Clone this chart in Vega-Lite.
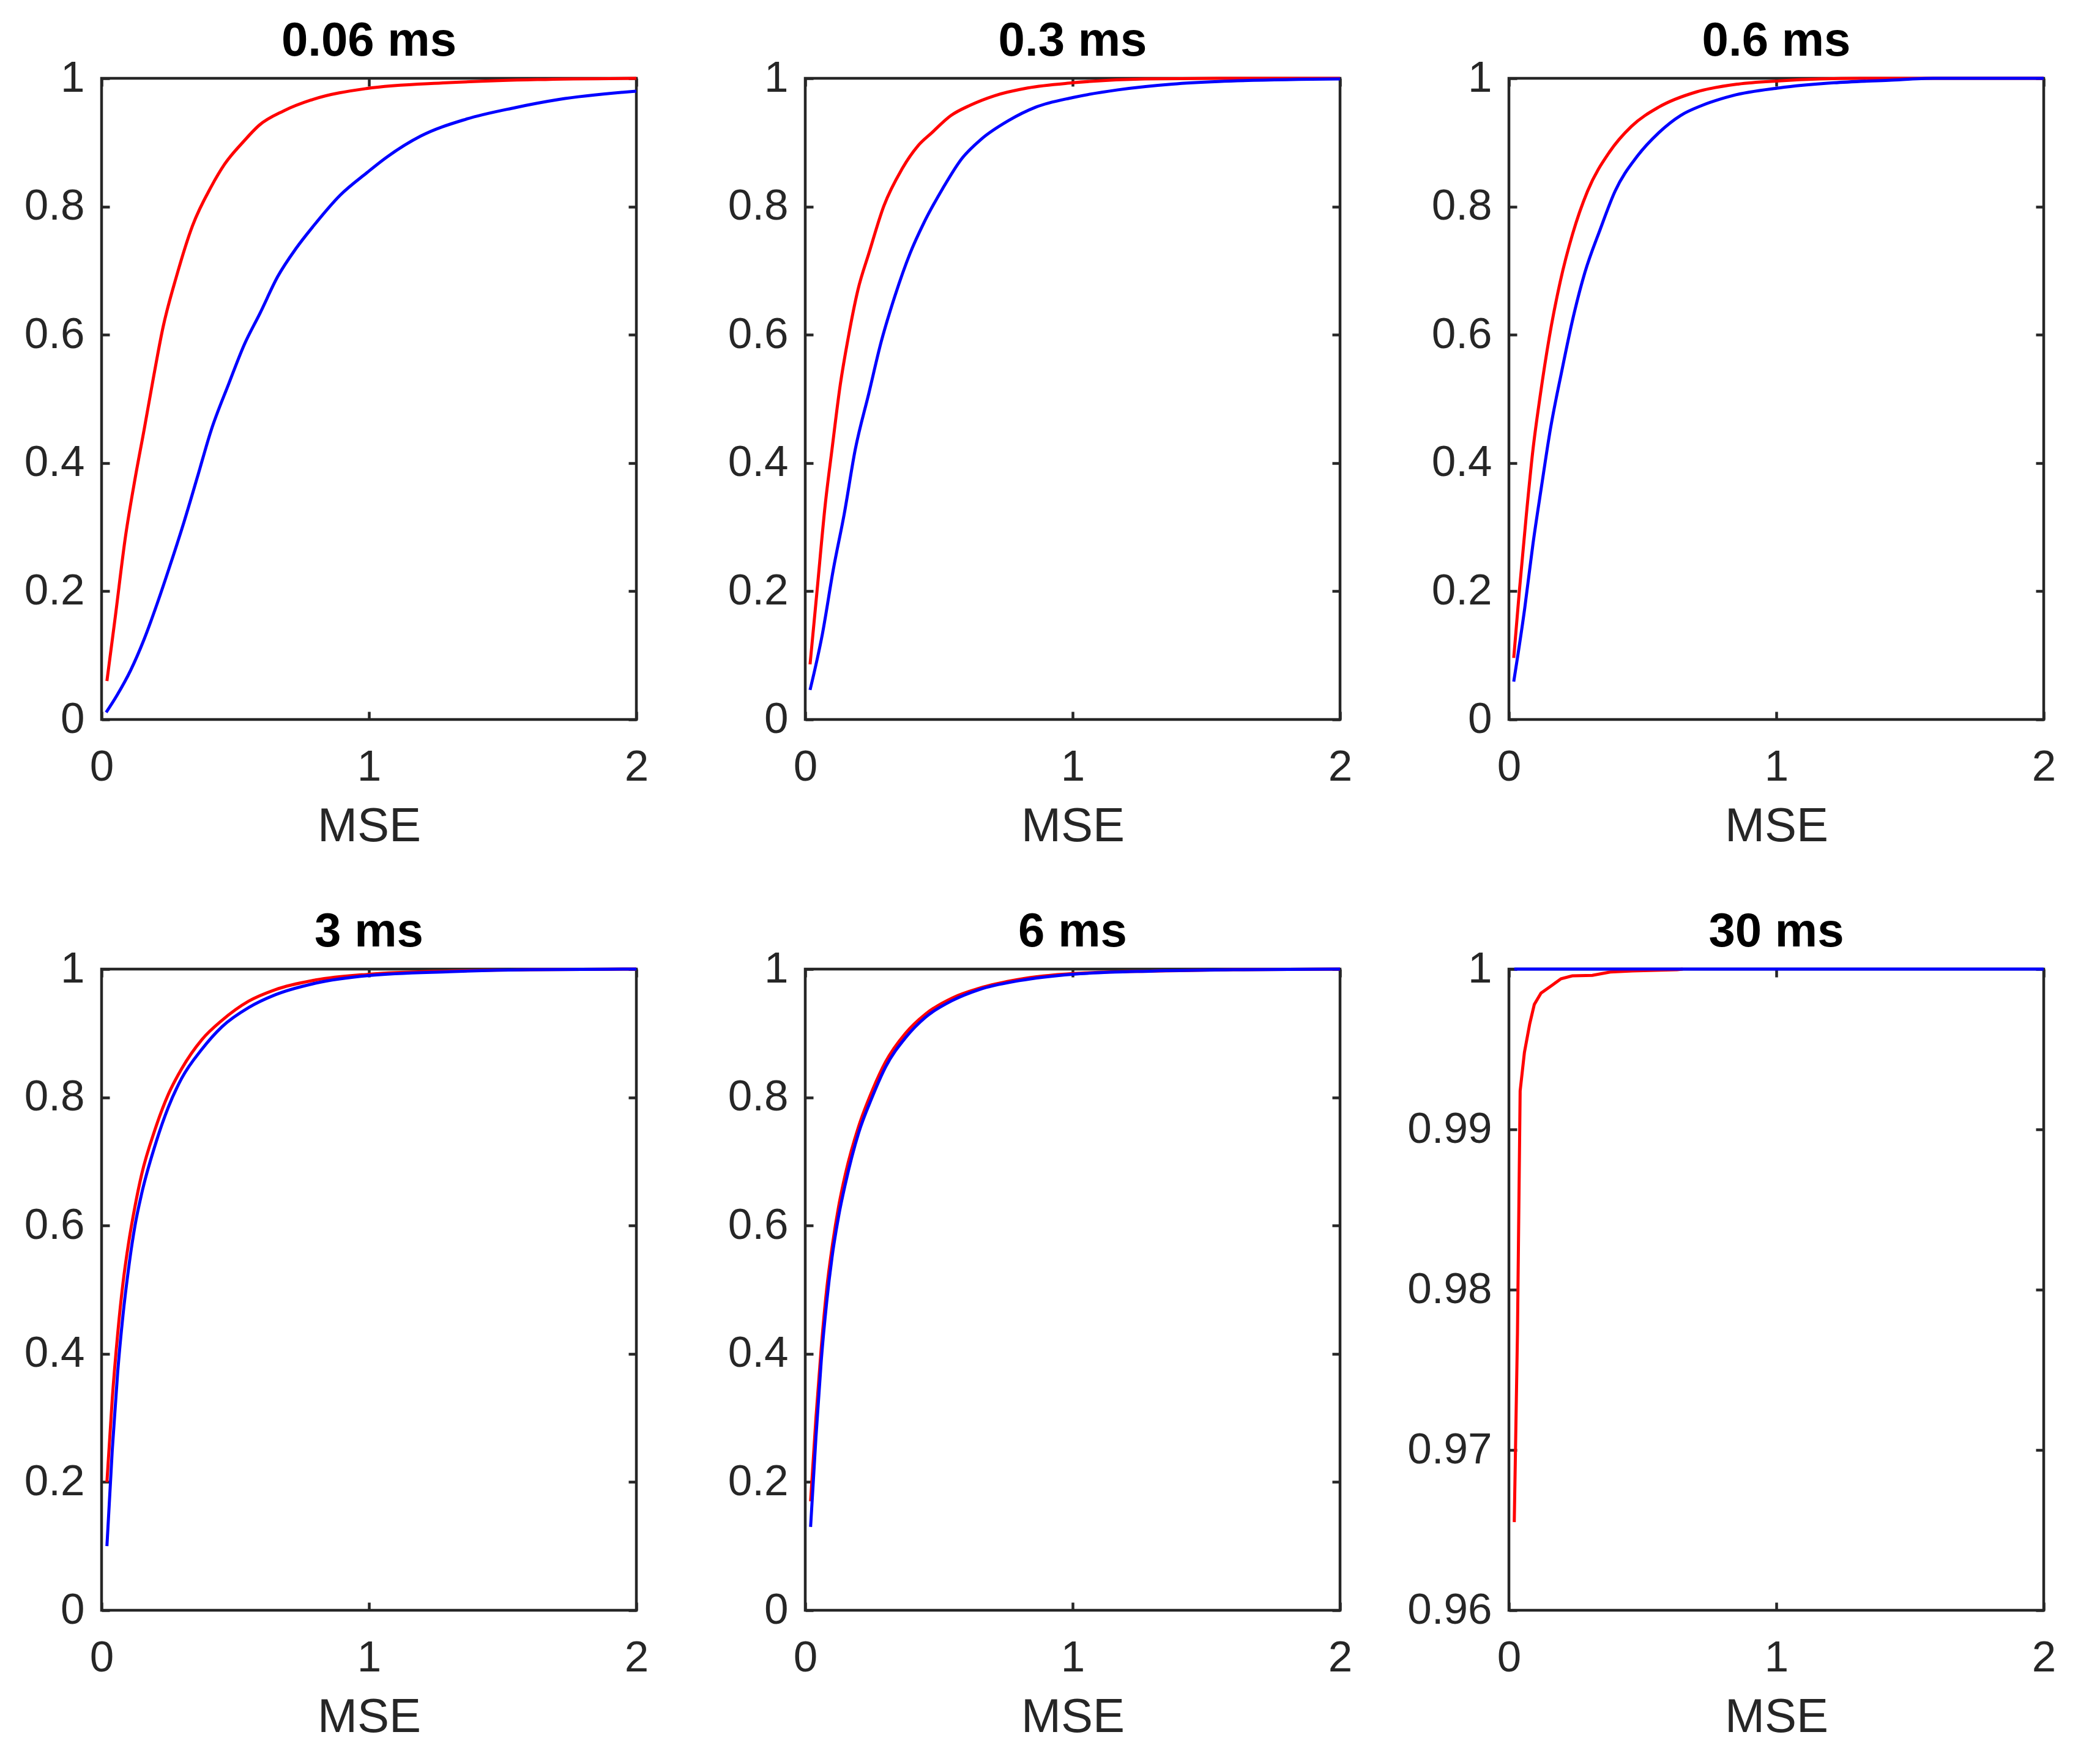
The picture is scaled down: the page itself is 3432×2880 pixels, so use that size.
{
  "$schema": "https://vega.github.io/schema/vega-lite/v6.json",
  "padding": {"left": 37, "top": 26, "right": 30, "bottom": 30},
  "background": "#ffffff",
  "config": {
    "view": {"stroke": "#262626", "strokeWidth": 4.5},
    "font": "Liberation Sans",
    "line": {"strokeWidth": 5, "strokeCap": "butt", "interpolate": "monotone"},
    "axis": {
      "grid": false,
      "domain": false,
      "tickColor": "#262626",
      "tickWidth": 4.5,
      "tickSize": -13,
      "labelFont": "Liberation Sans",
      "labelFontSize": 71,
      "labelColor": "#262626",
      "labelFlush": false,
      "labelOverlap": false,
      "titleFont": "Liberation Sans",
      "titleFontSize": 78,
      "titleFontWeight": "normal",
      "titleColor": "#262626"
    },
    "title": {
      "font": "Liberation Sans",
      "fontSize": 78,
      "fontWeight": "bold",
      "color": "#000000",
      "anchor": "middle",
      "frame": "group",
      "baseline": "alphabetic",
      "offset": -15
    }
  },
  "datasets": {
    "d": [
      {"panel": "0.06 ms", "series": "red", "mse": 0.02, "cdf": 0.06},
      {"panel": "0.06 ms", "series": "red", "mse": 0.05, "cdf": 0.156},
      {"panel": "0.06 ms", "series": "red", "mse": 0.09, "cdf": 0.287},
      {"panel": "0.06 ms", "series": "red", "mse": 0.125, "cdf": 0.375},
      {"panel": "0.06 ms", "series": "red", "mse": 0.16, "cdf": 0.454},
      {"panel": "0.06 ms", "series": "red", "mse": 0.19, "cdf": 0.524},
      {"panel": "0.06 ms", "series": "red", "mse": 0.23, "cdf": 0.612},
      {"panel": "0.06 ms", "series": "red", "mse": 0.28, "cdf": 0.691},
      {"panel": "0.06 ms", "series": "red", "mse": 0.34, "cdf": 0.77},
      {"panel": "0.06 ms", "series": "red", "mse": 0.41, "cdf": 0.831},
      {"panel": "0.06 ms", "series": "red", "mse": 0.46, "cdf": 0.866},
      {"panel": "0.06 ms", "series": "red", "mse": 0.53, "cdf": 0.901},
      {"panel": "0.06 ms", "series": "red", "mse": 0.59, "cdf": 0.927},
      {"panel": "0.06 ms", "series": "red", "mse": 0.68, "cdf": 0.949},
      {"panel": "0.06 ms", "series": "red", "mse": 0.79, "cdf": 0.967},
      {"panel": "0.06 ms", "series": "red", "mse": 0.99, "cdf": 0.984},
      {"panel": "0.06 ms", "series": "red", "mse": 1.29, "cdf": 0.993},
      {"panel": "0.06 ms", "series": "red", "mse": 1.63, "cdf": 0.998},
      {"panel": "0.06 ms", "series": "red", "mse": 2.0, "cdf": 1.0},
      {"panel": "0.06 ms", "series": "blue", "mse": 0.017, "cdf": 0.011},
      {"panel": "0.06 ms", "series": "blue", "mse": 0.058, "cdf": 0.038},
      {"panel": "0.06 ms", "series": "blue", "mse": 0.109, "cdf": 0.077},
      {"panel": "0.06 ms", "series": "blue", "mse": 0.159, "cdf": 0.125},
      {"panel": "0.06 ms", "series": "blue", "mse": 0.209, "cdf": 0.182},
      {"panel": "0.06 ms", "series": "blue", "mse": 0.259, "cdf": 0.244},
      {"panel": "0.06 ms", "series": "blue", "mse": 0.309, "cdf": 0.309},
      {"panel": "0.06 ms", "series": "blue", "mse": 0.359, "cdf": 0.379},
      {"panel": "0.06 ms", "series": "blue", "mse": 0.409, "cdf": 0.45},
      {"panel": "0.06 ms", "series": "blue", "mse": 0.476, "cdf": 0.524},
      {"panel": "0.06 ms", "series": "blue", "mse": 0.534, "cdf": 0.585},
      {"panel": "0.06 ms", "series": "blue", "mse": 0.593, "cdf": 0.634},
      {"panel": "0.06 ms", "series": "blue", "mse": 0.659, "cdf": 0.691},
      {"panel": "0.06 ms", "series": "blue", "mse": 0.726, "cdf": 0.734},
      {"panel": "0.06 ms", "series": "blue", "mse": 0.793, "cdf": 0.77},
      {"panel": "0.06 ms", "series": "blue", "mse": 0.893, "cdf": 0.818},
      {"panel": "0.06 ms", "series": "blue", "mse": 0.993, "cdf": 0.853},
      {"panel": "0.06 ms", "series": "blue", "mse": 1.06, "cdf": 0.875},
      {"panel": "0.06 ms", "series": "blue", "mse": 1.194, "cdf": 0.91},
      {"panel": "0.06 ms", "series": "blue", "mse": 1.361, "cdf": 0.936},
      {"panel": "0.06 ms", "series": "blue", "mse": 1.544, "cdf": 0.954},
      {"panel": "0.06 ms", "series": "blue", "mse": 1.711, "cdf": 0.967},
      {"panel": "0.06 ms", "series": "blue", "mse": 2.0, "cdf": 0.98},

      {"panel": "0.3 ms", "series": "red", "mse": 0.018, "cdf": 0.086},
      {"panel": "0.3 ms", "series": "red", "mse": 0.044, "cdf": 0.2},
      {"panel": "0.3 ms", "series": "red", "mse": 0.075, "cdf": 0.336},
      {"panel": "0.3 ms", "series": "red", "mse": 0.1, "cdf": 0.421},
      {"panel": "0.3 ms", "series": "red", "mse": 0.131, "cdf": 0.522},
      {"panel": "0.3 ms", "series": "red", "mse": 0.161, "cdf": 0.596},
      {"panel": "0.3 ms", "series": "red", "mse": 0.197, "cdf": 0.67},
      {"panel": "0.3 ms", "series": "red", "mse": 0.238, "cdf": 0.727},
      {"panel": "0.3 ms", "series": "red", "mse": 0.294, "cdf": 0.801},
      {"panel": "0.3 ms", "series": "red", "mse": 0.361, "cdf": 0.858},
      {"panel": "0.3 ms", "series": "red", "mse": 0.422, "cdf": 0.895},
      {"panel": "0.3 ms", "series": "red", "mse": 0.473, "cdf": 0.915},
      {"panel": "0.3 ms", "series": "red", "mse": 0.545, "cdf": 0.942},
      {"panel": "0.3 ms", "series": "red", "mse": 0.617, "cdf": 0.958},
      {"panel": "0.3 ms", "series": "red", "mse": 0.709, "cdf": 0.973},
      {"panel": "0.3 ms", "series": "red", "mse": 0.832, "cdf": 0.985},
      {"panel": "0.3 ms", "series": "red", "mse": 1.0, "cdf": 0.993},
      {"panel": "0.3 ms", "series": "red", "mse": 1.27, "cdf": 0.999},
      {"panel": "0.3 ms", "series": "red", "mse": 1.545, "cdf": 1.0},
      {"panel": "0.3 ms", "series": "red", "mse": 2.0, "cdf": 1.0},
      {"panel": "0.3 ms", "series": "blue", "mse": 0.018, "cdf": 0.046},
      {"panel": "0.3 ms", "series": "blue", "mse": 0.064, "cdf": 0.133},
      {"panel": "0.3 ms", "series": "blue", "mse": 0.105, "cdf": 0.234},
      {"panel": "0.3 ms", "series": "blue", "mse": 0.146, "cdf": 0.321},
      {"panel": "0.3 ms", "series": "blue", "mse": 0.187, "cdf": 0.421},
      {"panel": "0.3 ms", "series": "blue", "mse": 0.238, "cdf": 0.509},
      {"panel": "0.3 ms", "series": "blue", "mse": 0.284, "cdf": 0.589},
      {"panel": "0.3 ms", "series": "blue", "mse": 0.335, "cdf": 0.66},
      {"panel": "0.3 ms", "series": "blue", "mse": 0.392, "cdf": 0.727},
      {"panel": "0.3 ms", "series": "blue", "mse": 0.443, "cdf": 0.774},
      {"panel": "0.3 ms", "series": "blue", "mse": 0.514, "cdf": 0.828},
      {"panel": "0.3 ms", "series": "blue", "mse": 0.586, "cdf": 0.875},
      {"panel": "0.3 ms", "series": "blue", "mse": 0.658, "cdf": 0.905},
      {"panel": "0.3 ms", "series": "blue", "mse": 0.76, "cdf": 0.934},
      {"panel": "0.3 ms", "series": "blue", "mse": 0.862, "cdf": 0.955},
      {"panel": "0.3 ms", "series": "blue", "mse": 1.0, "cdf": 0.97},
      {"panel": "0.3 ms", "series": "blue", "mse": 1.169, "cdf": 0.982},
      {"panel": "0.3 ms", "series": "blue", "mse": 1.373, "cdf": 0.991},
      {"panel": "0.3 ms", "series": "blue", "mse": 1.545, "cdf": 0.995},
      {"panel": "0.3 ms", "series": "blue", "mse": 2.0, "cdf": 0.999},

      {"panel": "0.6 ms", "series": "red", "mse": 0.018, "cdf": 0.096},
      {"panel": "0.6 ms", "series": "red", "mse": 0.039, "cdf": 0.2},
      {"panel": "0.6 ms", "series": "red", "mse": 0.064, "cdf": 0.314},
      {"panel": "0.6 ms", "series": "red", "mse": 0.09, "cdf": 0.421},
      {"panel": "0.6 ms", "series": "red", "mse": 0.116, "cdf": 0.502},
      {"panel": "0.6 ms", "series": "red", "mse": 0.151, "cdf": 0.596},
      {"panel": "0.6 ms", "series": "red", "mse": 0.192, "cdf": 0.683},
      {"panel": "0.6 ms", "series": "red", "mse": 0.238, "cdf": 0.757},
      {"panel": "0.6 ms", "series": "red", "mse": 0.294, "cdf": 0.824},
      {"panel": "0.6 ms", "series": "red", "mse": 0.376, "cdf": 0.885},
      {"panel": "0.6 ms", "series": "red", "mse": 0.458, "cdf": 0.925},
      {"panel": "0.6 ms", "series": "red", "mse": 0.56, "cdf": 0.955},
      {"panel": "0.6 ms", "series": "red", "mse": 0.703, "cdf": 0.979},
      {"panel": "0.6 ms", "series": "red", "mse": 0.857, "cdf": 0.991},
      {"panel": "0.6 ms", "series": "red", "mse": 1.01, "cdf": 0.996},
      {"panel": "0.6 ms", "series": "red", "mse": 1.317, "cdf": 1.0},
      {"panel": "0.6 ms", "series": "red", "mse": 2.0, "cdf": 1.0},
      {"panel": "0.6 ms", "series": "blue", "mse": 0.018, "cdf": 0.059},
      {"panel": "0.6 ms", "series": "blue", "mse": 0.059, "cdf": 0.173},
      {"panel": "0.6 ms", "series": "blue", "mse": 0.09, "cdf": 0.274},
      {"panel": "0.6 ms", "series": "blue", "mse": 0.121, "cdf": 0.361},
      {"panel": "0.6 ms", "series": "blue", "mse": 0.156, "cdf": 0.455},
      {"panel": "0.6 ms", "series": "blue", "mse": 0.197, "cdf": 0.542},
      {"panel": "0.6 ms", "series": "blue", "mse": 0.238, "cdf": 0.623},
      {"panel": "0.6 ms", "series": "blue", "mse": 0.284, "cdf": 0.697},
      {"panel": "0.6 ms", "series": "blue", "mse": 0.341, "cdf": 0.764},
      {"panel": "0.6 ms", "series": "blue", "mse": 0.397, "cdf": 0.824},
      {"panel": "0.6 ms", "series": "blue", "mse": 0.479, "cdf": 0.878},
      {"panel": "0.6 ms", "series": "blue", "mse": 0.56, "cdf": 0.915},
      {"panel": "0.6 ms", "series": "blue", "mse": 0.642, "cdf": 0.942},
      {"panel": "0.6 ms", "series": "blue", "mse": 0.724, "cdf": 0.958},
      {"panel": "0.6 ms", "series": "blue", "mse": 0.836, "cdf": 0.973},
      {"panel": "0.6 ms", "series": "blue", "mse": 1.01, "cdf": 0.985},
      {"panel": "0.6 ms", "series": "blue", "mse": 1.215, "cdf": 0.993},
      {"panel": "0.6 ms", "series": "blue", "mse": 1.42, "cdf": 0.997},
      {"panel": "0.6 ms", "series": "blue", "mse": 1.59, "cdf": 1.0},
      {"panel": "0.6 ms", "series": "blue", "mse": 2.0, "cdf": 1.0},

      {"panel": "3 ms", "series": "red", "mse": 0.02, "cdf": 0.2},
      {"panel": "3 ms", "series": "red", "mse": 0.04, "cdf": 0.33},
      {"panel": "3 ms", "series": "red", "mse": 0.06, "cdf": 0.43},
      {"panel": "3 ms", "series": "red", "mse": 0.08, "cdf": 0.51},
      {"panel": "3 ms", "series": "red", "mse": 0.1, "cdf": 0.57},
      {"panel": "3 ms", "series": "red", "mse": 0.125, "cdf": 0.63},
      {"panel": "3 ms", "series": "red", "mse": 0.15, "cdf": 0.68},
      {"panel": "3 ms", "series": "red", "mse": 0.2, "cdf": 0.75},
      {"panel": "3 ms", "series": "red", "mse": 0.25, "cdf": 0.805},
      {"panel": "3 ms", "series": "red", "mse": 0.3, "cdf": 0.845},
      {"panel": "3 ms", "series": "red", "mse": 0.375, "cdf": 0.89},
      {"panel": "3 ms", "series": "red", "mse": 0.45, "cdf": 0.92},
      {"panel": "3 ms", "series": "red", "mse": 0.55, "cdf": 0.95},
      {"panel": "3 ms", "series": "red", "mse": 0.65, "cdf": 0.968},
      {"panel": "3 ms", "series": "red", "mse": 0.8, "cdf": 0.983},
      {"panel": "3 ms", "series": "red", "mse": 1.0, "cdf": 0.992},
      {"panel": "3 ms", "series": "red", "mse": 1.3, "cdf": 0.997},
      {"panel": "3 ms", "series": "red", "mse": 1.6, "cdf": 0.999},
      {"panel": "3 ms", "series": "red", "mse": 2.0, "cdf": 1.0},
      {"panel": "3 ms", "series": "blue", "mse": 0.02, "cdf": 0.1},
      {"panel": "3 ms", "series": "blue", "mse": 0.04, "cdf": 0.25},
      {"panel": "3 ms", "series": "blue", "mse": 0.06, "cdf": 0.37},
      {"panel": "3 ms", "series": "blue", "mse": 0.08, "cdf": 0.46},
      {"panel": "3 ms", "series": "blue", "mse": 0.1, "cdf": 0.53},
      {"panel": "3 ms", "series": "blue", "mse": 0.125, "cdf": 0.6},
      {"panel": "3 ms", "series": "blue", "mse": 0.15, "cdf": 0.65},
      {"panel": "3 ms", "series": "blue", "mse": 0.2, "cdf": 0.725},
      {"panel": "3 ms", "series": "blue", "mse": 0.25, "cdf": 0.785},
      {"panel": "3 ms", "series": "blue", "mse": 0.3, "cdf": 0.83},
      {"panel": "3 ms", "series": "blue", "mse": 0.375, "cdf": 0.875},
      {"panel": "3 ms", "series": "blue", "mse": 0.45, "cdf": 0.91},
      {"panel": "3 ms", "series": "blue", "mse": 0.55, "cdf": 0.94},
      {"panel": "3 ms", "series": "blue", "mse": 0.65, "cdf": 0.96},
      {"panel": "3 ms", "series": "blue", "mse": 0.8, "cdf": 0.978},
      {"panel": "3 ms", "series": "blue", "mse": 1.0, "cdf": 0.99},
      {"panel": "3 ms", "series": "blue", "mse": 1.3, "cdf": 0.996},
      {"panel": "3 ms", "series": "blue", "mse": 1.6, "cdf": 0.999},
      {"panel": "3 ms", "series": "blue", "mse": 2.0, "cdf": 1.0},

      {"panel": "6 ms", "series": "red", "mse": 0.02, "cdf": 0.17},
      {"panel": "6 ms", "series": "red", "mse": 0.04, "cdf": 0.3},
      {"panel": "6 ms", "series": "red", "mse": 0.06, "cdf": 0.41},
      {"panel": "6 ms", "series": "red", "mse": 0.08, "cdf": 0.5},
      {"panel": "6 ms", "series": "red", "mse": 0.1, "cdf": 0.565},
      {"panel": "6 ms", "series": "red", "mse": 0.125, "cdf": 0.63},
      {"panel": "6 ms", "series": "red", "mse": 0.15, "cdf": 0.68},
      {"panel": "6 ms", "series": "red", "mse": 0.2, "cdf": 0.755},
      {"panel": "6 ms", "series": "red", "mse": 0.25, "cdf": 0.81},
      {"panel": "6 ms", "series": "red", "mse": 0.3, "cdf": 0.855},
      {"panel": "6 ms", "series": "red", "mse": 0.375, "cdf": 0.9},
      {"panel": "6 ms", "series": "red", "mse": 0.45, "cdf": 0.93},
      {"panel": "6 ms", "series": "red", "mse": 0.55, "cdf": 0.955},
      {"panel": "6 ms", "series": "red", "mse": 0.65, "cdf": 0.97},
      {"panel": "6 ms", "series": "red", "mse": 0.8, "cdf": 0.984},
      {"panel": "6 ms", "series": "red", "mse": 1.0, "cdf": 0.993},
      {"panel": "6 ms", "series": "red", "mse": 1.3, "cdf": 0.997},
      {"panel": "6 ms", "series": "red", "mse": 1.6, "cdf": 0.999},
      {"panel": "6 ms", "series": "red", "mse": 2.0, "cdf": 1.0},
      {"panel": "6 ms", "series": "blue", "mse": 0.02, "cdf": 0.13},
      {"panel": "6 ms", "series": "blue", "mse": 0.04, "cdf": 0.27},
      {"panel": "6 ms", "series": "blue", "mse": 0.06, "cdf": 0.39},
      {"panel": "6 ms", "series": "blue", "mse": 0.08, "cdf": 0.48},
      {"panel": "6 ms", "series": "blue", "mse": 0.1, "cdf": 0.55},
      {"panel": "6 ms", "series": "blue", "mse": 0.125, "cdf": 0.615},
      {"panel": "6 ms", "series": "blue", "mse": 0.15, "cdf": 0.665},
      {"panel": "6 ms", "series": "blue", "mse": 0.2, "cdf": 0.745},
      {"panel": "6 ms", "series": "blue", "mse": 0.25, "cdf": 0.8},
      {"panel": "6 ms", "series": "blue", "mse": 0.3, "cdf": 0.847},
      {"panel": "6 ms", "series": "blue", "mse": 0.375, "cdf": 0.893},
      {"panel": "6 ms", "series": "blue", "mse": 0.45, "cdf": 0.925},
      {"panel": "6 ms", "series": "blue", "mse": 0.55, "cdf": 0.951},
      {"panel": "6 ms", "series": "blue", "mse": 0.65, "cdf": 0.968},
      {"panel": "6 ms", "series": "blue", "mse": 0.8, "cdf": 0.982},
      {"panel": "6 ms", "series": "blue", "mse": 1.0, "cdf": 0.992},
      {"panel": "6 ms", "series": "blue", "mse": 1.3, "cdf": 0.997},
      {"panel": "6 ms", "series": "blue", "mse": 1.6, "cdf": 0.999},
      {"panel": "6 ms", "series": "blue", "mse": 2.0, "cdf": 1.0},

      {"panel": "30 ms", "series": "red", "mse": 0.02, "cdf": 0.9655},
      {"panel": "30 ms", "series": "red", "mse": 0.032, "cdf": 0.9773},
      {"panel": "30 ms", "series": "red", "mse": 0.042, "cdf": 0.9924},
      {"panel": "30 ms", "series": "red", "mse": 0.058, "cdf": 0.9948},
      {"panel": "30 ms", "series": "red", "mse": 0.078, "cdf": 0.9966},
      {"panel": "30 ms", "series": "red", "mse": 0.095, "cdf": 0.9978},
      {"panel": "30 ms", "series": "red", "mse": 0.12, "cdf": 0.9985},
      {"panel": "30 ms", "series": "red", "mse": 0.162, "cdf": 0.999},
      {"panel": "30 ms", "series": "red", "mse": 0.195, "cdf": 0.9994},
      {"panel": "30 ms", "series": "red", "mse": 0.237, "cdf": 0.99958},
      {"panel": "30 ms", "series": "red", "mse": 0.312, "cdf": 0.99961},
      {"panel": "30 ms", "series": "red", "mse": 0.379, "cdf": 0.99982},
      {"panel": "30 ms", "series": "red", "mse": 0.462, "cdf": 0.99989},
      {"panel": "30 ms", "series": "red", "mse": 0.629, "cdf": 0.99996},
      {"panel": "30 ms", "series": "red", "mse": 0.65, "cdf": 1.0},
      {"panel": "30 ms", "series": "blue", "mse": 0.02, "cdf": 1.0},
      {"panel": "30 ms", "series": "blue", "mse": 2.0, "cdf": 1.0}
    ]
  },
  "columns": 3,
  "bounds": "flush",
  "align": "all",
  "spacing": {"row": 408, "column": 276},
  "concat": [
    {
      "title": {"text": "0.06 ms"},
      "width": 874, "height": 1048,
      "data": {"name": "d"},
      "transform": [{"filter": "datum.panel === '0.06 ms'"}],
      "resolve": {"axis": {"x": "independent", "y": "independent"}},
      "layer": [
        {"transform": [{"filter": "datum.series === 'red'"}],
         "mark": {"type": "line", "color": "#FF0000"},
         "encoding": {
           "x": {"field": "mse", "type": "quantitative", "scale": {"domain": [0, 2], "nice": false}, "axis": {"orient": "bottom", "values": [0, 1, 2], "format": "~g", "title": "MSE", "labelPadding": 56, "titlePadding": 23}},
           "y": {"field": "cdf", "type": "quantitative", "scale": {"domain": [0, 1], "nice": false}, "axis": {"orient": "left", "values": [0, 0.2, 0.4, 0.6, 0.8, 1], "format": "~g", "title": null, "labelPadding": 41}}
         }},
        {"transform": [{"filter": "datum.series === 'blue'"}],
         "mark": {"type": "line", "color": "#0000FF"},
         "encoding": {
           "x": {"field": "mse", "type": "quantitative", "axis": {"orient": "top", "values": [0, 1, 2], "labels": false, "title": null}},
           "y": {"field": "cdf", "type": "quantitative", "axis": {"orient": "right", "values": [0, 0.2, 0.4, 0.6, 0.8, 1], "labels": false, "title": null}}
         }}
      ]
    },
    {
      "title": {"text": "0.3 ms"},
      "width": 874, "height": 1048,
      "data": {"name": "d"},
      "transform": [{"filter": "datum.panel === '0.3 ms'"}],
      "resolve": {"axis": {"x": "independent", "y": "independent"}},
      "layer": [
        {"transform": [{"filter": "datum.series === 'red'"}],
         "mark": {"type": "line", "color": "#FF0000"},
         "encoding": {
           "x": {"field": "mse", "type": "quantitative", "scale": {"domain": [0, 2], "nice": false}, "axis": {"orient": "bottom", "values": [0, 1, 2], "format": "~g", "title": "MSE", "labelPadding": 56, "titlePadding": 23}},
           "y": {"field": "cdf", "type": "quantitative", "scale": {"domain": [0, 1], "nice": false}, "axis": {"orient": "left", "values": [0, 0.2, 0.4, 0.6, 0.8, 1], "format": "~g", "title": null, "labelPadding": 41}}
         }},
        {"transform": [{"filter": "datum.series === 'blue'"}],
         "mark": {"type": "line", "color": "#0000FF"},
         "encoding": {
           "x": {"field": "mse", "type": "quantitative", "axis": {"orient": "top", "values": [0, 1, 2], "labels": false, "title": null}},
           "y": {"field": "cdf", "type": "quantitative", "axis": {"orient": "right", "values": [0, 0.2, 0.4, 0.6, 0.8, 1], "labels": false, "title": null}}
         }}
      ]
    },
    {
      "title": {"text": "0.6 ms"},
      "width": 874, "height": 1048,
      "data": {"name": "d"},
      "transform": [{"filter": "datum.panel === '0.6 ms'"}],
      "resolve": {"axis": {"x": "independent", "y": "independent"}},
      "layer": [
        {"transform": [{"filter": "datum.series === 'red'"}],
         "mark": {"type": "line", "color": "#FF0000"},
         "encoding": {
           "x": {"field": "mse", "type": "quantitative", "scale": {"domain": [0, 2], "nice": false}, "axis": {"orient": "bottom", "values": [0, 1, 2], "format": "~g", "title": "MSE", "labelPadding": 56, "titlePadding": 23}},
           "y": {"field": "cdf", "type": "quantitative", "scale": {"domain": [0, 1], "nice": false}, "axis": {"orient": "left", "values": [0, 0.2, 0.4, 0.6, 0.8, 1], "format": "~g", "title": null, "labelPadding": 41}}
         }},
        {"transform": [{"filter": "datum.series === 'blue'"}],
         "mark": {"type": "line", "color": "#0000FF"},
         "encoding": {
           "x": {"field": "mse", "type": "quantitative", "axis": {"orient": "top", "values": [0, 1, 2], "labels": false, "title": null}},
           "y": {"field": "cdf", "type": "quantitative", "axis": {"orient": "right", "values": [0, 0.2, 0.4, 0.6, 0.8, 1], "labels": false, "title": null}}
         }}
      ]
    },
    {
      "title": {"text": "3 ms"},
      "width": 874, "height": 1048,
      "data": {"name": "d"},
      "transform": [{"filter": "datum.panel === '3 ms'"}],
      "resolve": {"axis": {"x": "independent", "y": "independent"}},
      "layer": [
        {"transform": [{"filter": "datum.series === 'red'"}],
         "mark": {"type": "line", "color": "#FF0000"},
         "encoding": {
           "x": {"field": "mse", "type": "quantitative", "scale": {"domain": [0, 2], "nice": false}, "axis": {"orient": "bottom", "values": [0, 1, 2], "format": "~g", "title": "MSE", "labelPadding": 56, "titlePadding": 23}},
           "y": {"field": "cdf", "type": "quantitative", "scale": {"domain": [0, 1], "nice": false}, "axis": {"orient": "left", "values": [0, 0.2, 0.4, 0.6, 0.8, 1], "format": "~g", "title": null, "labelPadding": 41}}
         }},
        {"transform": [{"filter": "datum.series === 'blue'"}],
         "mark": {"type": "line", "color": "#0000FF"},
         "encoding": {
           "x": {"field": "mse", "type": "quantitative", "axis": {"orient": "top", "values": [0, 1, 2], "labels": false, "title": null}},
           "y": {"field": "cdf", "type": "quantitative", "axis": {"orient": "right", "values": [0, 0.2, 0.4, 0.6, 0.8, 1], "labels": false, "title": null}}
         }}
      ]
    },
    {
      "title": {"text": "6 ms"},
      "width": 874, "height": 1048,
      "data": {"name": "d"},
      "transform": [{"filter": "datum.panel === '6 ms'"}],
      "resolve": {"axis": {"x": "independent", "y": "independent"}},
      "layer": [
        {"transform": [{"filter": "datum.series === 'red'"}],
         "mark": {"type": "line", "color": "#FF0000"},
         "encoding": {
           "x": {"field": "mse", "type": "quantitative", "scale": {"domain": [0, 2], "nice": false}, "axis": {"orient": "bottom", "values": [0, 1, 2], "format": "~g", "title": "MSE", "labelPadding": 56, "titlePadding": 23}},
           "y": {"field": "cdf", "type": "quantitative", "scale": {"domain": [0, 1], "nice": false}, "axis": {"orient": "left", "values": [0, 0.2, 0.4, 0.6, 0.8, 1], "format": "~g", "title": null, "labelPadding": 41}}
         }},
        {"transform": [{"filter": "datum.series === 'blue'"}],
         "mark": {"type": "line", "color": "#0000FF"},
         "encoding": {
           "x": {"field": "mse", "type": "quantitative", "axis": {"orient": "top", "values": [0, 1, 2], "labels": false, "title": null}},
           "y": {"field": "cdf", "type": "quantitative", "axis": {"orient": "right", "values": [0, 0.2, 0.4, 0.6, 0.8, 1], "labels": false, "title": null}}
         }}
      ]
    },
    {
      "title": {"text": "30 ms"},
      "width": 874, "height": 1048,
      "data": {"name": "d"},
      "transform": [{"filter": "datum.panel === '30 ms'"}],
      "resolve": {"axis": {"x": "independent", "y": "independent"}},
      "layer": [
        {"transform": [{"filter": "datum.series === 'red'"}],
         "mark": {"type": "line", "color": "#FF0000", "interpolate": "linear"},
         "encoding": {
           "x": {"field": "mse", "type": "quantitative", "scale": {"domain": [0, 2], "nice": false}, "axis": {"orient": "bottom", "values": [0, 1, 2], "format": "~g", "title": "MSE", "labelPadding": 56, "titlePadding": 23}},
           "y": {"field": "cdf", "type": "quantitative", "scale": {"domain": [0.96, 1], "nice": false, "zero": false}, "axis": {"orient": "left", "values": [0.96, 0.97, 0.98, 0.99, 1], "format": "~g", "title": null, "labelPadding": 41}}
         }},
        {"transform": [{"filter": "datum.series === 'blue'"}],
         "mark": {"type": "line", "color": "#0000FF", "interpolate": "linear"},
         "encoding": {
           "x": {"field": "mse", "type": "quantitative", "axis": {"orient": "top", "values": [0, 1, 2], "labels": false, "title": null}},
           "y": {"field": "cdf", "type": "quantitative", "axis": {"orient": "right", "values": [0.96, 0.97, 0.98, 0.99, 1], "labels": false, "title": null}}
         }}
      ]
    }
  ]
}
